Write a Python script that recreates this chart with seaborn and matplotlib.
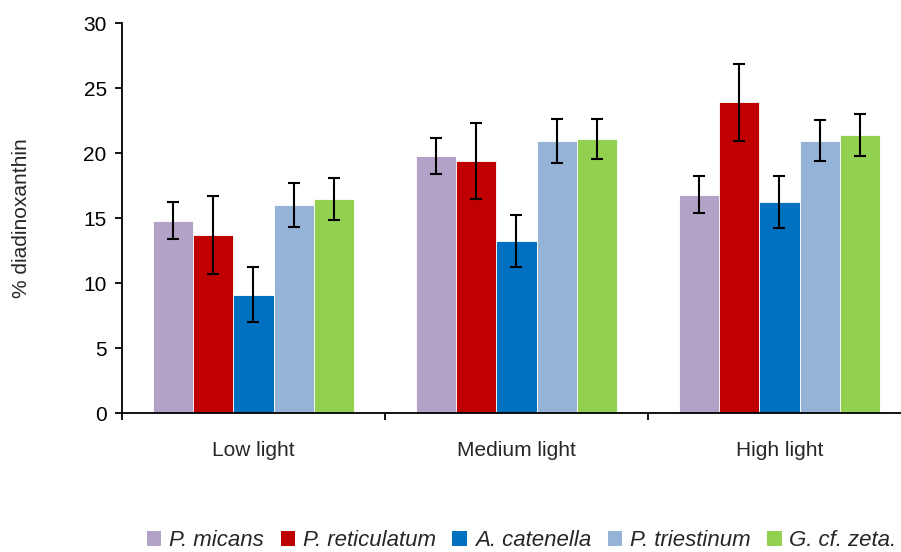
import matplotlib
matplotlib.use("Agg")
import matplotlib.pyplot as plt
from matplotlib.patches import Patch
import numpy as np
import pandas as pd
import seaborn as sns

# Light treatments and species
conditions = ["Low light", "Medium light", "High light"]
species = ["P. micans", "P. reticulatum", "A. catenella", "P. triestinum", "G. cf. zeta."]
colors = ["#B3A2C7", "#C00000", "#0070C0", "#95B3D7", "#92D050"]

# Mean % diadinoxanthin per species (rows) and light condition (columns)
p_micans = [14.8, 19.75, 16.8]
p_reticulatum = [13.7, 19.4, 23.9]
a_catenella = [9.1, 13.25, 16.2]
p_triestinum = [16.0, 20.95, 20.95]
g_zeta = [16.45, 21.1, 21.4]

# Standard deviations
p_micans_sd = [1.45, 1.4, 1.4]
p_reticulatum_sd = [3.0, 2.9, 2.95]
a_catenella_sd = [2.1, 2.0, 2.0]
p_triestinum_sd = [1.7, 1.7, 1.6]
g_zeta_sd = [1.6, 1.55, 1.6]

means = [p_micans, p_reticulatum, a_catenella, p_triestinum, g_zeta]
sds = [p_micans_sd, p_reticulatum_sd, a_catenella_sd, p_triestinum_sd, g_zeta_sd]

rows = []
for sp, m, s in zip(species, means, sds):
    for cond, v, e in zip(conditions, m, s):
        rows.append({"condition": cond, "species": sp, "value": v, "sd": e})
df = pd.DataFrame(rows)

sns.set_style("white")
plt.rcParams["font.family"] = ["Liberation Sans", "DejaVu Sans"]

fig = plt.figure(figsize=(9.01, 5.52), dpi=100)
ax = fig.add_axes([0.1354, 0.2518, 0.8646, 0.7065])

sns.barplot(data=df, x="condition", y="value", hue="species",
            order=conditions, hue_order=species, palette=colors,
            errorbar=None, width=0.765, gap=0, dodge=True,
            edgecolor="white", linewidth=0.6, saturation=1, ax=ax, legend=False)

# Error bars at each bar centre
for container, sd in zip(ax.containers, sds):
    for bar, e in zip(container, sd):
        x = bar.get_x() + bar.get_width() / 2
        ax.errorbar(x, bar.get_height(), yerr=e, fmt="none", ecolor="black",
                    elinewidth=1.5, capsize=4.5, capthick=1.5, zorder=5)

ax.set_yticks(np.arange(0, 31, 5))
ax.set_xticks([-0.5, 0.5, 1.5, 2.5], minor=True)
ax.set_ylim(0, 30)
ax.set_xlim(-0.5, 2.5 - 10 / 263)

for side in ["top", "right"]:
    ax.spines[side].set_visible(False)
for side in ["left", "bottom"]:
    ax.spines[side].set_color("black")
    ax.spines[side].set_linewidth(1.3)

ax.tick_params(axis="y", which="major", direction="out", length=5, width=1.3,
               labelsize=15, left=True, pad=6, colors="black")
ax.tick_params(axis="x", which="major", length=0, labelsize=15, pad=20)
ax.tick_params(axis="x", which="minor", direction="out", length=5, width=1.3,
               bottom=True, colors="black")

ax.set_xlabel("")
ax.set_ylabel("% diadinoxanthin", fontsize=15, labelpad=38)

handles = [Patch(facecolor=c, edgecolor="none") for c in colors]
fig.legend(handles, species, loc="center", bbox_to_anchor=(0.579, 0.02),
           ncol=5, frameon=False, handlelength=0.65, handleheight=0.65,
           handletextpad=0.35, columnspacing=0.75,
           prop={"style": "italic", "size": 16})

fig.savefig("out.png", dpi=100)
